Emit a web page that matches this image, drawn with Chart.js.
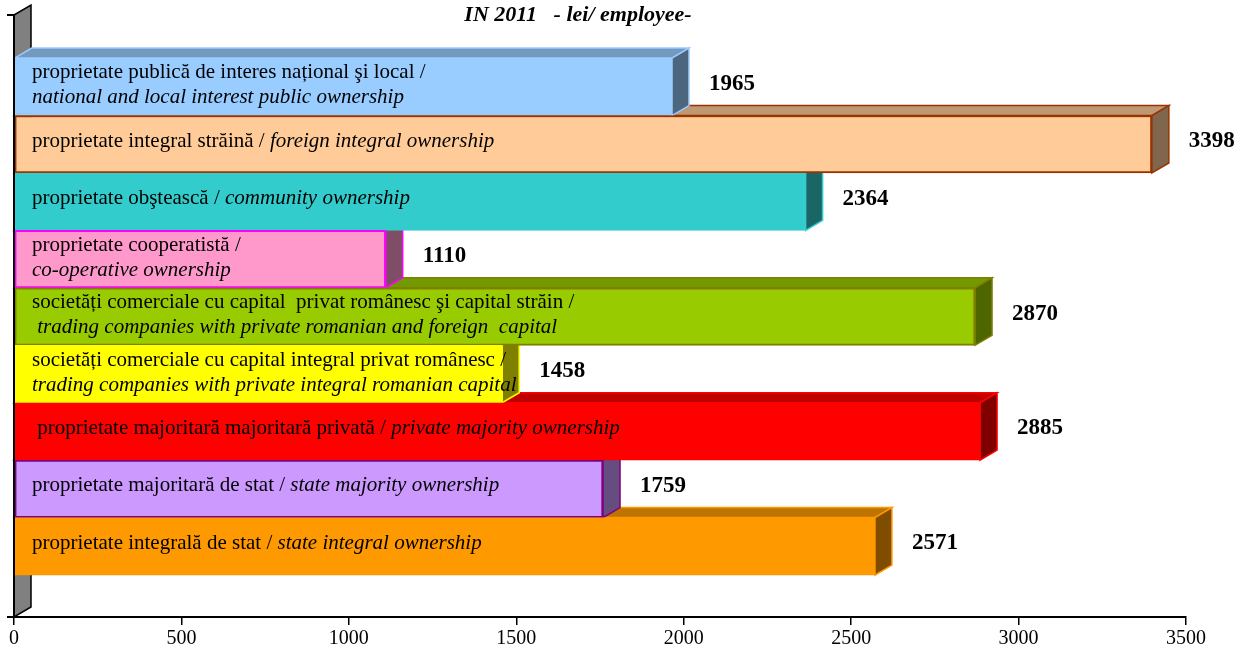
<!DOCTYPE html>
<html>
<head>
<meta charset="utf-8">
<script src="https://cdn.jsdelivr.net/npm/chart.js@4/dist/chart.umd.min.js"></script>
<style>
html,body{margin:0;padding:0;background:#fff}
#wrap{width:1239px;height:653px;position:relative}
</style>
</head>
<body>
<div id="wrap"><canvas id="chart"></canvas></div>
<script>
// ── data ──
const TITLE="IN 2011   - lei/ employee-";
const categories=[
  "proprietate publică de interes național şi local /\nnational and local interest public ownership",
  "proprietate integral străină / foreign integral ownership",
  "proprietate obştească / community ownership",
  "proprietate cooperatistă /\nco-operative ownership",
  "societăți comerciale cu capital  privat românesc şi capital străin /\n trading companies with private romanian and foreign  capital",
  "societăți comerciale cu capital integral privat românesc /\ntrading companies with private integral romanian capital",
  " proprietate majoritară majoritară privată / private majority ownership",
  "proprietate majoritară de stat / state majority ownership",
  "proprietate integrală de stat / state integral ownership"
];
const values=[1965,3398,2364,1110,2870,1458,2885,1759,2571];
const xTicks=[0,500,1000,1500,2000,2500,3000,3500];
const frontColors=["#99CCFF","#FFCC99","#33CCCC","#FF99CC","#99CC00","#FFFF00","#FF0000","#CC99FF","#FF9900"];
const edgeColors=["#99CCFF","#993300","#33CCCC","#FF00FF","#808000","#FFFF00","#FF0000","#800080","#FF9900"];

const SERIF="'Liberation Serif','Times New Roman',serif";
const DX=17,DY=10; // 3d depth

function shade(hex,f){
  const n=parseInt(hex.slice(1),16);
  const r=Math.round((n>>16&255)*f),g=Math.round((n>>8&255)*f),b=Math.round((n&255)*f);
  return `rgb(${r},${g},${b})`;
}

// back wall + top/side faces, drawn bottom bar first so upper bars cover them
const depth={
  id:"depth",
  beforeDatasetsDraw(ch){
    const c=ch.ctx,a=ch.chartArea;
    c.save();
    c.fillStyle="#808080";c.strokeStyle="#000";c.lineWidth=1.5;
    c.beginPath();
    c.moveTo(a.left,a.bottom);c.lineTo(a.left,a.top);
    c.lineTo(a.left+DX,a.top-DY);c.lineTo(a.left+DX,a.bottom-DY);
    c.closePath();c.fill();c.stroke();
    const bars=ch.getDatasetMeta(0).data;
    for(let i=bars.length-1;i>=0;i--){
      const {x,y,base,height}=bars[i].getProps(["x","y","base","height"],true);
      const t=y-height/2,bt=y+height/2;
      c.strokeStyle=edgeColors[i];c.lineWidth=1.5;
      c.fillStyle=shade(frontColors[i],.75);
      c.beginPath();c.moveTo(base,t);c.lineTo(base+DX,t-DY);c.lineTo(x+DX,t-DY);c.lineTo(x,t);c.closePath();c.fill();c.stroke();
      c.fillStyle=shade(frontColors[i],.5);
      c.beginPath();c.moveTo(x,t);c.lineTo(x+DX,t-DY);c.lineTo(x+DX,bt-DY);c.lineTo(x,bt);c.closePath();c.fill();c.stroke();
    }
    c.restore();
  },
  afterDatasetsDraw(ch){
    const c=ch.ctx,a=ch.chartArea;
    const bars=ch.getDatasetMeta(0).data;
    c.save();
    // left axis line and stubs
    c.strokeStyle="#000";c.lineWidth=2;
    c.beginPath();c.moveTo(a.left,a.top);c.lineTo(a.left,a.bottom);
    c.moveTo(a.left-7,a.top);c.lineTo(a.left,a.top);
    c.moveTo(a.left-7,a.bottom);c.lineTo(a.left,a.bottom);
    c.stroke();
    c.fillStyle="#000";c.textBaseline="middle";c.textAlign="left";
    bars.forEach((b,i)=>{
      const {x,y}=b.getProps(["x","y"],true);
      const lines=categories[i].split("\n");
      const ys=lines.length>1?[y-14,y+11]:[y-3];
      lines.forEach((ln,k)=>{
        let px=a.left+18;
        const s=ln.indexOf("/");
        const parts=s>=0?[[ln.slice(0,s+1),false],[ln.slice(s+1),true]]:[[ln,k>0]];
        parts.forEach(([txt,it])=>{
          c.font=(it?"italic ":"")+"21px "+SERIF;
          c.fillText(txt,px,ys[k]);
          px+=c.measureText(txt).width;
        });
      });
      c.font="bold 23px "+SERIF;
      c.fillText(String(values[i]),x+DX+20,y-3);
    });
    c.restore();
  },
  afterDraw(ch){
    const c=ch.ctx;
    c.save();
    c.font="bold italic 22px "+SERIF;
    c.fillStyle="#000";c.textAlign="center";c.textBaseline="middle";
    c.fillText(TITLE,578,15);
    c.restore();
  }
};

new Chart(document.getElementById("chart"),{
  type:"bar",
  data:{
    datasets:[{
      data:values.map((v,i)=>({x:v,y:i})),
      backgroundColor:frontColors,
      borderColor:edgeColors,
      borderWidth:2,
      borderSkipped:false,
      categoryPercentage:1,
      barPercentage:1
    }]
  },
  options:{
    indexAxis:"y",
    responsive:true,maintainAspectRatio:false,animation:false,
    layout:{padding:{left:14,right:53,top:15,bottom:0}},
    plugins:{legend:{display:false},tooltip:{enabled:false}},
    scales:{
      x:{
        type:"linear",min:0,max:3500,
        afterBuildTicks:s=>{s.ticks=xTicks.map(v=>({value:v}));},
        border:{color:"#000",width:2},
        grid:{drawOnChartArea:false,color:"#000",lineWidth:1.5,tickLength:8},
        ticks:{color:"#000",padding:2,font:{family:SERIF,size:20},callback:v=>String(v)}
      },
      y:{
        type:"linear",reverse:true,min:-1.25,max:9.23,display:false,
        afterBuildTicks:s=>{s.ticks=[];}
      }
    }
  },
  plugins:[depth]
});
</script>
</body>
</html>
